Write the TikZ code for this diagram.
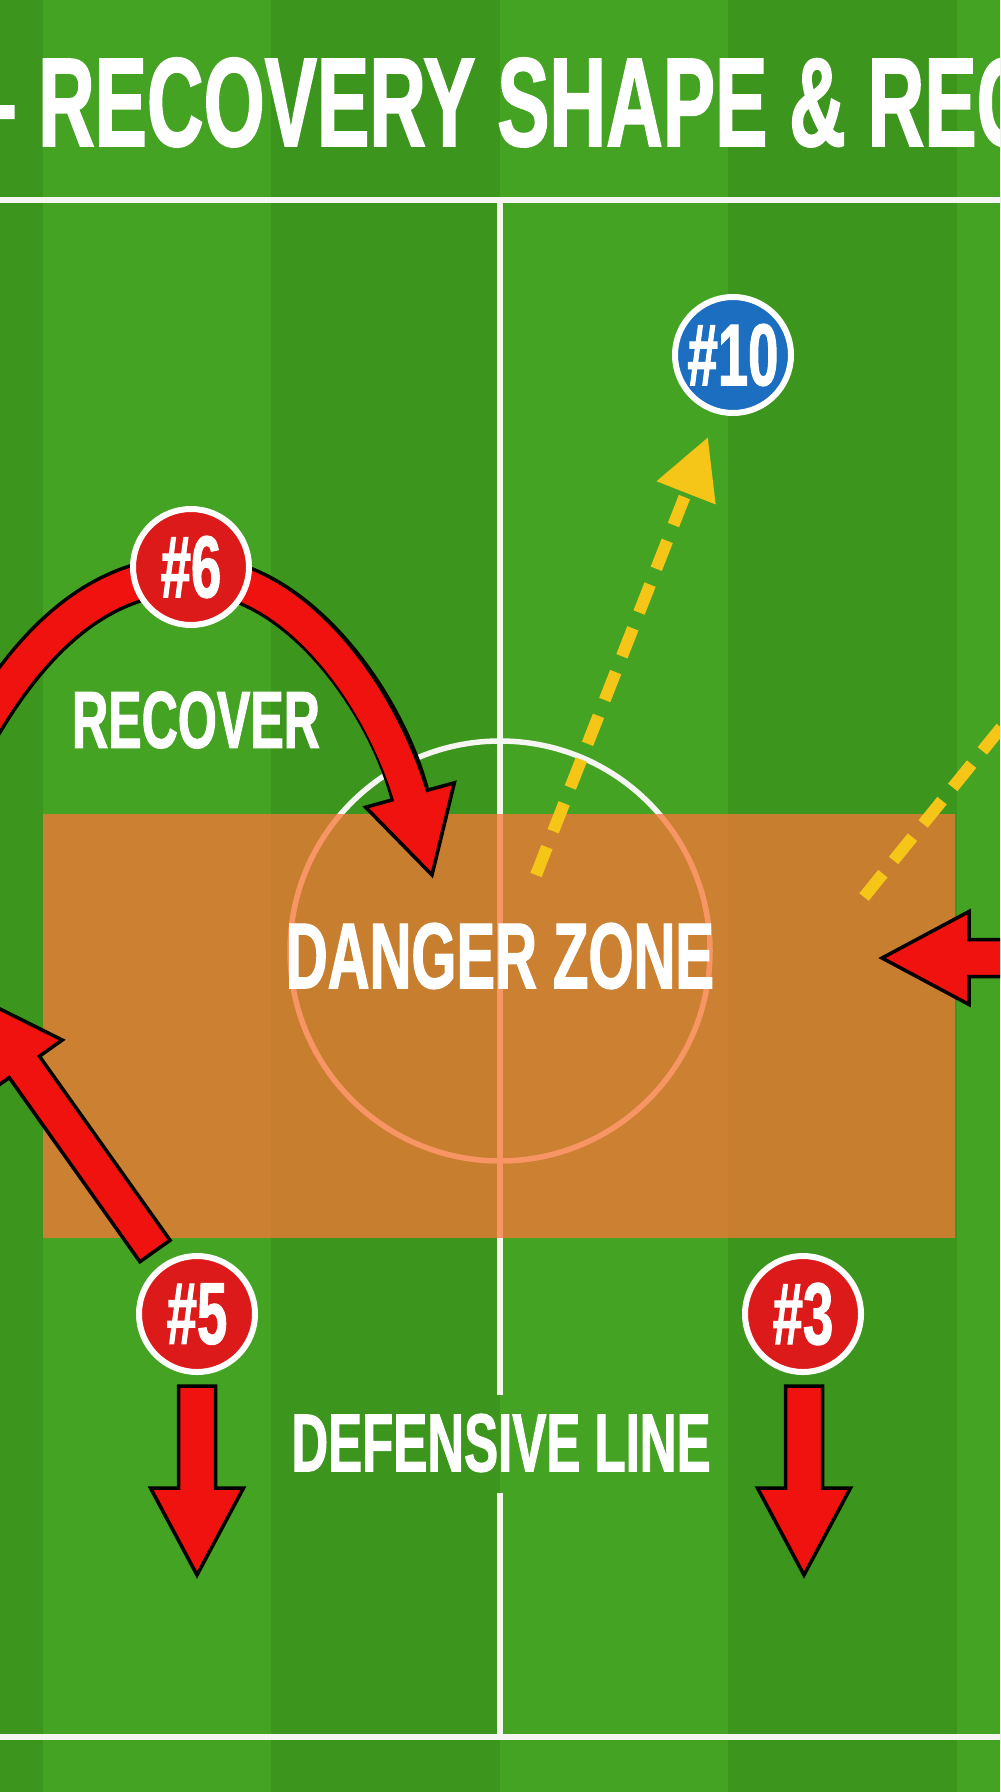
\documentclass[tikz,border=0pt]{standalone}
\usepackage{fontspec}
\usetikzlibrary{calc,arrows.meta}
\newfontfamily\dinfont[FakeStretch=0.62,BoldFeatures={FakeBold=1.2}]{Liberation Sans}
\definecolor{pitchlight}{HTML}{45A324}
\definecolor{pitchdark}{HTML}{3C961D}
\definecolor{zone}{HTML}{F87636}
\definecolor{chalk}{HTML}{F5F5F2}
\definecolor{runred}{HTML}{F0120E}
\definecolor{shirtred}{HTML}{DD1A1A}
\definecolor{shirtblue}{HTML}{1C6FC0}
\definecolor{passyellow}{HTML}{F5C518}
% block arrow from #1 to the tip #2
\newcommand{\runarrow}[2]
{
  \coordinate (head) at ($(#2)!8.7mm!(#1)$);
  \draw[runline] ($(#1)!1.85mm!90:(#2)$) -- ($(head)!1.85mm!-90:(#1)$)
    -- ($(head)!4.65mm!-90:(#1)$) -- (#2) -- ($(head)!4.65mm!90:(#1)$)
    -- ($(head)!1.85mm!90:(#1)$) -- ($(#1)!1.85mm!-90:(#2)$) -- cycle;
}
\begin{document}
\begin{tikzpicture}
    [
      x=0.1mm,
      y=-0.1mm,
      chalkline/.style=
      {
        draw=chalk,
        line width=0.55mm,
      },
      runline/.style=
      {
        fill=runred,
        draw=black,
        line width=0.35mm,
        line join=miter,
      },
      passline/.style=
      {
        draw=passyellow,
        line width=1.2mm,
        dash pattern=on 3mm off 1.7mm,
      },
      player/.style=
      {
        circle,
        draw=white,
        line width=0.6mm,
        minimum size=11.6mm,
        inner sep=0pt,
        text=white,
        font=\dinfont\bfseries\fontsize{25}{25}\selectfont
      },
      redshirt/.style={player, fill=shirtred},
      blueshirt/.style={player, fill=shirtblue},
      txt/.style=
      {
        text=white,
        inner sep=0pt,
        font=\dinfont\bfseries\fontsize{#1}{#1}\selectfont
      }
    ]
    \path[use as bounding box] (0,0) rectangle (1000,1792);
    \clip (0,0) rectangle (1000,1792);

    % grass and stripes
    \fill[pitchdark] (0,0) rectangle (1000,1792);
    \foreach \x in {43,500,957}
      \fill[pitchlight] (\x,0) rectangle ++(228,1792);

    % markings
    \draw[chalkline] (0,200) -- (1000,200);
    \draw[chalkline] (0,1737) -- (1000,1737);
    \draw[chalkline] (500,200) -- (500,1395);
    \draw[chalkline] (500,1493) -- (500,1737);
    \draw[chalkline] (500,951) circle[radius=210];

    % danger zone
    \fill[zone, fill opacity=0.75] (43,814) rectangle (955,1238);

    % player spots
    \coordinate (ten) at (733,355);
    \coordinate (six) at (191,567);
    \coordinate (five) at (197,1314);
    \coordinate (three) at (803,1314);

    % passes
    \coordinate (PassStart) at (536,875);
    \coordinate (PassEnd) at (708,437);
    \draw[passline, -{Triangle[length=6mm,width=6mm]}] (PassStart) -- (PassEnd);
    \coordinate (CutStart) at (864,897);
    \coordinate (CutEnd) at (1060,655);
    \draw[passline] (CutStart) -- (CutEnd);

    % recovery run of #6
    \coordinate (ArcStart) at (-30,748);
    \coordinate (ArcTop) at ($(six)+(0,8)$);
    \coordinate (ArcEnd) at (410,795);
    \coordinate (ArcTip) at (432,875);
    \draw[black, line width=4mm] (ArcStart) .. controls (15,665) and (85,574) .. (ArcTop)
      .. controls (295,574) and (385,700) .. (ArcEnd);
    \draw[runline] ($(ArcEnd)!4.6mm!90:(ArcTip)$) -- (ArcTip) -- ($(ArcEnd)!4.6mm!-90:(ArcTip)$) -- cycle;
    \draw[runred, line width=3.3mm, shorten >=-1.5mm] (ArcStart) .. controls (15,665) and (85,574) .. (ArcTop)
      .. controls (295,574) and (385,700) .. (ArcEnd);

    % other runs
    \coordinate (FiveOut) at (155,1251);
    \coordinate (FiveOutTip) at (-26,996);
    \runarrow{FiveOut}{FiveOutTip}
    \coordinate (FiveDrop) at (197,1386);
    \coordinate (FiveDropTip) at (197,1575);
    \runarrow{FiveDrop}{FiveDropTip}
    \coordinate (ThreeDrop) at (804,1386);
    \coordinate (ThreeDropTip) at (804,1575);
    \runarrow{ThreeDrop}{ThreeDropTip}
    \coordinate (WideRun) at (1060,958);
    \coordinate (WideRunTip) at (882,958);
    \runarrow{WideRun}{WideRunTip}

    % players
    \node[blueshirt] (PlayerTen) at (ten) {\#10};
    \node[redshirt] (PlayerSix) at (six) {\#6};
    \node[redshirt] (PlayerFive) at (five) {\#5};
    \node[redshirt] (PlayerThree) at (three) {\#3};

    % texts
    \node[txt=36, anchor=base west] (TheTitle) at (-28,146) {– RECOVERY SHAPE \& REC};
    \node[txt=23] (RecoverLabel) at (196,720) {RECOVER};
    \node[txt=26.6] (ZoneLabel) at (500,956) {DANGER ZONE};
    \node[txt=23.4] (LineLabel) at (501,1443) {DEFENSIVE LINE};
  \end{tikzpicture}
\end{document}
